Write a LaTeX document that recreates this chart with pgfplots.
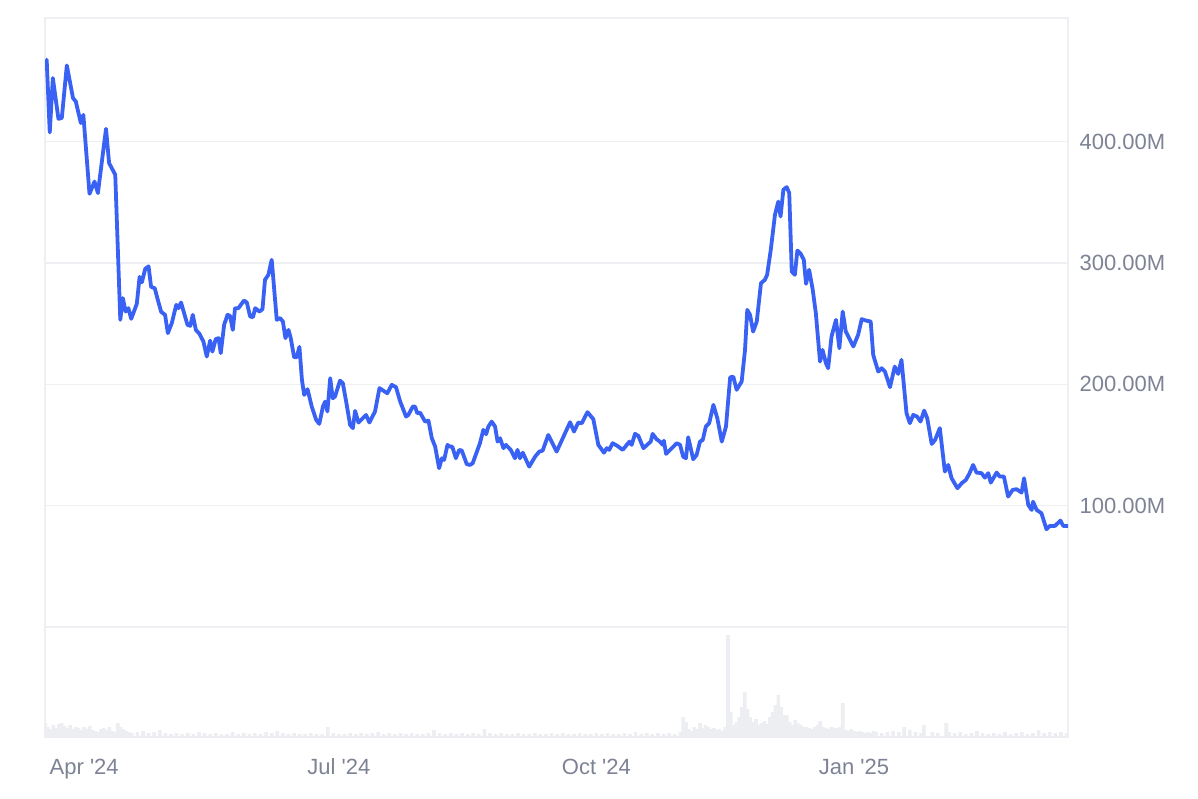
\documentclass[border=0pt]{standalone}
\usepackage{pgfplots}
\pgfplotsset{compat=1.18}
\usepackage{fontspec}
\setmainfont{Liberation Sans}

\definecolor{lineblue}{RGB}{57,98,245}
\definecolor{gridgray}{RGB}{238,239,242}
\definecolor{volgray}{RGB}{236,238,241}
\definecolor{labelgray}{RGB}{125,131,148}

\pgfplotsset{
  every tick label/.append style={font=\fontsize{22}{22}\selectfont, text=labelgray},
}

% day 0 = 1 Apr 2024, price in millions
\pgfplotstableread{
day price
-13.4 467.6
-12.3 407.6
-11.2 452.5
-9.2 418.9
-8.0 419.5
-6.2 462.9
-4.0 436.0
-3.0 433.2
-1.2 415.4
-0.3 422.2
1.9 357.1
3.7 367.2
4.9 357.7
7.8 410.7
8.9 382.4
11.1 372.8
12.9 253.2
13.8 271.1
14.8 260.0
15.8 262.8
16.8 254.0
18.8 266.4
19.8 288.6
20.6 284.1
21.8 295.2
23.0 297.3
23.9 280.4
25.2 279.3
26.3 269.7
27.5 259.8
28.9 257.3
29.9 242.2
31.3 250.5
32.9 265.6
33.7 262.8
34.6 267.5
36.9 249.1
37.9 248.2
38.8 257.3
39.9 244.9
41.2 241.6
42.6 235.3
43.8 222.9
45.0 236.1
45.8 227.0
47.0 237.3
48.0 238.1
48.8 225.7
50.0 249.1
51.2 257.3
52.1 256.5
53.1 244.9
53.9 262.8
55.1 262.8
57.1 269.1
58.1 267.5
59.3 255.9
60.3 255.4
61.1 262.8
62.6 260.0
63.7 262.0
64.6 286.2
65.8 290.3
67.0 302.7
68.8 253.2
70.0 254.6
71.0 251.8
71.9 238.1
73.0 244.9
73.8 238.1
75.0 222.4
75.9 222.3
76.9 230.9
77.8 203.7
78.6 191.3
79.8 196.0
81.3 181.7
82.9 170.7
84.0 167.4
85.3 181.7
86.1 185.8
86.9 177.6
87.9 205.1
88.8 188.6
89.6 189.9
91.4 203.1
92.4 201.0
93.6 185.8
95.0 166.6
96.0 163.9
96.8 178.1
98.0 168.5
100.7 174.8
101.9 168.5
103.9 177.6
105.5 196.9
108.3 192.7
109.9 199.6
111.4 197.7
112.9 185.8
115.0 173.4
115.8 174.8
117.4 181.7
118.2 181.7
119.0 176.2
120.0 176.7
121.8 169.3
123.0 170.1
124.2 155.6
125.4 148.7
126.8 130.9
127.8 139.1
128.6 137.7
129.8 150.1
130.7 148.7
131.5 148.7
132.8 139.1
134.0 146.0
134.9 145.4
136.7 134.2
137.9 133.6
138.8 135.0
141.4 151.5
142.6 162.5
143.6 158.9
144.4 165.2
145.6 169.3
146.8 165.2
147.7 152.8
148.6 155.6
149.8 147.4
150.7 150.1
152.4 146.0
153.9 139.1
154.8 146.0
155.7 139.1
156.7 143.7
159.0 132.2
161.1 140.4
162.6 144.6
163.8 145.4
165.8 158.3
168.8 144.6
173.6 168.8
175.0 161.1
176.5 168.5
177.8 168.0
179.8 177.1
181.9 171.3
183.7 150.1
185.7 143.7
186.7 147.4
187.6 146.0
188.8 151.5
190.5 149.3
192.4 146.0
194.8 152.8
195.6 150.1
196.8 159.2
198.0 157.5
199.8 147.4
202.4 152.8
203.1 159.2
204.5 154.8
205.7 152.8
206.7 150.1
207.1 153.6
207.9 142.7
211.7 151.5
212.9 150.1
214.0 140.4
215.0 139.1
215.8 156.4
217.6 138.3
218.8 141.8
220.0 152.8
221.0 154.2
222.1 165.2
223.3 168.0
224.8 183.1
226.2 172.1
227.8 152.8
229.3 165.2
230.1 187.2
230.8 205.8
231.9 206.4
233.1 195.5
234.9 202.3
236.1 228.4
236.9 261.4
237.9 257.3
239.0 243.5
240.3 251.8
241.8 283.4
243.2 286.2
244.0 290.3
245.3 310.9
246.8 339.8
248.0 350.7
248.8 338.4
249.8 360.4
251.0 362.6
251.9 357.7
252.8 293.0
253.9 290.3
254.8 310.3
256.0 307.6
257.1 302.7
257.9 282.9
259.0 294.4
260.3 277.9
261.4 258.7
262.9 218.8
263.8 228.4
265.0 217.5
265.8 213.3
267.0 239.4
268.6 253.2
269.8 229.8
271.0 260.0
272.1 243.5
273.3 238.1
274.8 231.2
276.5 240.8
277.8 253.8
279.3 252.6
281.0 251.8
281.9 224.3
283.7 210.5
284.9 213.3
286.1 210.5
287.9 197.7
289.6 214.7
290.8 208.6
292.0 220.2
293.8 176.2
295.0 168.0
296.2 174.8
297.6 173.4
298.8 169.3
300.1 178.4
301.2 172.1
302.8 150.9
304.0 154.2
305.7 163.9
307.5 128.1
308.7 133.6
309.9 122.6
312.0 114.4
313.5 118.5
315.0 121.2
316.2 126.2
317.6 133.6
318.8 127.3
320.6 126.8
321.8 123.1
323.0 126.8
323.9 119.0
326.0 127.3
327.1 124.0
328.6 124.0
330.1 107.5
331.7 113.0
333.1 113.6
334.9 110.8
335.8 122.6
337.3 100.6
338.5 96.5
339.0 103.3
340.3 96.5
342.0 93.8
343.8 80.6
345.0 83.3
346.8 83.3
348.8 87.7
349.8 83.3
351.4 83.3
}\pricetable

% relative traded volume (panel height units)
\pgfplotstableread{
day vol
-14 14
-13 10
-12 8
-11 12
-10 9
-9 13
-8 14
-7 11
-6 9
-5 12
-4 8
-3 10
-2 9
-1 7
0 10
1 8
2 11
3 7
4 6
5 5
6 8
7 9
8 7
9 10
10 6
11 5
12 14
13 10
14 8
15 6
16 5
17 4
19 5
21 6
23 4
25 5
27 7
29 4
31 3
33 4
35 3
37 4
39 3
41 5
43 4
45 3
47 4
49 3
51 3
53 5
55 3
57 4
59 3
61 4
63 3
65 5
67 4
69 6
71 4
73 3
75 4
77 3
79 3
81 4
83 3
85 3
87 10
89 4
91 3
93 3
95 4
97 3
99 4
101 3
103 4
105 5
107 3
109 4
111 3
113 4
115 3
117 4
119 3
121 3
123 4
125 7
127 4
129 3
131 4
133 3
135 4
137 3
139 4
141 3
143 8
145 4
147 3
149 4
151 3
153 3
155 4
157 3
159 3
161 4
163 3
165 3
167 4
169 3
171 4
173 3
175 3
177 4
179 3
181 3
183 4
185 3
187 4
189 3
191 3
193 4
195 3
197 5
199 3
201 4
203 3
205 4
207 3
209 4
211 3
213 5
214 20
215 15
216 8
217 6
218 10
219 8
220 14
221 9
222 12
223 10
224 8
225 9
226 7
227 8
228 6
229 10
230 102
231 25
232 12
233 15
234 20
235 30
236 45
237 28
238 20
239 15
240 18
241 12
242 14
243 16
244 13
245 20
246 25
247 32
248 42
249 30
250 22
251 22
252 15
253 12
254 17
255 14
256 12
257 10
258 10
259 9
260 8
261 10
262 12
263 16
264 10
265 9
266 8
267 10
268 9
269 9
270 10
271 34
272 7
273 6
274 8
275 6
276 5
277 6
278 5
279 4
280 5
281 4
282 6
283 5
285 4
287 5
289 6
291 5
293 10
295 7
297 5
299 4
300 12
303 5
305 4
308 14
309 5
311 4
313 5
315 3
317 4
319 6
321 4
323 3
325 4
327 3
329 5
331 3
333 4
335 5
337 3
339 4
341 7
343 4
345 5
347 4
349 5
351 4
}\voltable

\begin{document}
\begin{tikzpicture}[x=1pt,y=1pt]
\useasboundingbox (0,0) rectangle (1198,798);

\begin{axis}[
  at={(45pt,171pt)}, anchor=south west,
  scale only axis, width=1023pt, height=609pt,
  xmin=-14, xmax=351.5, ymin=0, ymax=502,
  axis line style={draw=gridgray, line width=1.3pt},
  ymajorgrids, grid style={draw=gridgray, line width=1.3pt},
  xtick=\empty,
  ytick={100,200,300,400},
  yticklabels={100.00M,200.00M,300.00M,400.00M},
  yticklabel pos=right,
  major tick length=0pt,
  yticklabel style={anchor=west, xshift=8pt},
]
\addplot[lineblue, line width=3.8pt, line join=round, line cap=round, no markers] table[x=day, y=price] {\pricetable};
\end{axis}

\begin{axis}[
  at={(45pt,61pt)}, anchor=south west,
  scale only axis, width=1023pt, height=110pt,
  xmin=-14, xmax=351.5, ymin=0, ymax=110,
  axis line style={draw=gridgray, line width=1.3pt},
  ytick=\empty,
  xtick={0,91,183,275},
  xticklabels={{Apr \textquotesingle24},{Jul \textquotesingle24},{Oct \textquotesingle24},{Jan \textquotesingle25}},
  major tick length=0pt,
  xticklabel style={anchor=base, yshift=-37pt},
]
\addplot[ybar, bar width=1.3, fill=volgray, draw=none] table[x=day, y=vol] {\voltable};
\end{axis}
\end{tikzpicture}
\end{document}
